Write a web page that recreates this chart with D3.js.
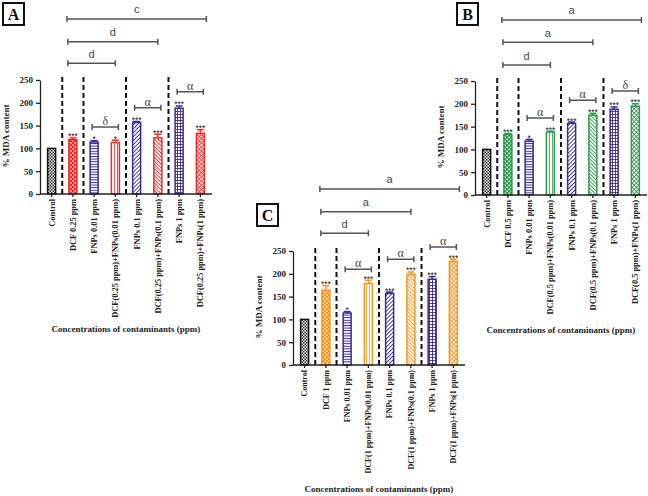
<!DOCTYPE html>
<html><head><meta charset="utf-8">
<script src="https://cdn.jsdelivr.net/npm/d3@7"></script>
<style>body{margin:0;background:#fff;} svg{display:block;}</style>
</head><body>
<svg id="chart" width="648" height="496"></svg>
<script>
// ---------------- DATA ----------------
const categoriesA = ["Control","DCF 0.25 ppm","FNPs 0.01 ppm","DCF(0.25 ppm)+FNPs(0.01 ppm)","FNPs 0.1 ppm","DCF(0.25 ppm)+FNPs(0.1 ppm)","FNPs 1 ppm","DCF(0.25 ppm)+FNPs(1 ppm)"];
const valuesA = [100,119,114,113,157,123,188,133];
const errorsA = [0,4,3,5,2,8,5,8];
const starsA = ["","***","*","*","***","***","***","***"];
const pairsA = [[2,3,147,"δ"],[4,5,189,"α"],[6,7,224,"α"]];
const widesA = [[1,3,287,"d"],[1,5,334,"d"],[1,7,384,"c"]];

const categoriesB = ["Control","DCF 0.5 ppm","FNPs 0.01 ppm","DCF(0.5 ppm)+FNPs(0.01 ppm)","FNPs 0.1 ppm","DCF(0.5 ppm)+FNPs(0.1 ppm)","FNPs 1 ppm","DCF(0.5 ppm)+FNPs(1 ppm)"];
const valuesB = [100,133,118,138,157,175,188,195];
const errorsB = [0,2,4,2,3,4,5,5];
const starsB = ["","***","*","***","***","***","***","***"];
const pairsB = [[2,3,169,"α"],[4,5,208,"α"],[6,7,228,"δ"]];
const widesB = [[1,3,285,"d"],[1,5,335,"a"],[1,7,384,"a"]];

const categoriesC = ["Control","DCF 1 ppm","FNPs 0.01 ppm","DCF(1 ppm)+FNPs(0.01 ppm)","FNPs 0.1 ppm","DCF(1 ppm)+FNPs(0.1 ppm)","FNPs 1 ppm","DCF(1 ppm)+FNPs(1 ppm)"];
const valuesC = [100,164,114,179,157,199,188,227];
const errorsC = [0,10,3,7,3,5,6,5];
const starsC = ["","***","*","***","***","***","***","***"];
const pairsC = [[2,3,210,"α"],[4,5,232,"α"],[6,7,259,"α"]];
const widesC = [[1,3,289,"d"],[1,5,336,"a"],[1,7,386,"a"]];

const yTicks = [0,50,100,150,200,250];
const patternTypes = ["checker","dcf","hlines","vlines","diag1","diag2","grid","cross"];
const yTitle = "% MDA content";
const xTitle = "Concentrations of contaminants (ppm)";

// ---------------- STYLE ----------------
const PURPLE = "#3d2a8a";
const SERIF = "'Liberation Serif','Times New Roman',serif";
const SANS = "'Liberation Sans',Arial,sans-serif";

const svg = d3.select("#chart");
const defs = svg.append("defs");

function makePatterns(pid, color) {
  function pat(name, size, rot) {
    const p = defs.append("pattern").attr("id", pid + "-" + name)
      .attr("patternUnits","userSpaceOnUse").attr("width", size).attr("height", size);
    if (rot) p.attr("patternTransform", "rotate(" + rot + ")");
    p.append("rect").attr("width", size).attr("height", size).attr("fill", "#fff");
    return p;
  }
  let p = pat("checker", 3);
  p.append("rect").attr("width",1.5).attr("height",1.5).attr("fill","#222");
  p.append("rect").attr("x",1.5).attr("y",1.5).attr("width",1.5).attr("height",1.5).attr("fill","#222");
  p = pat("dcf", 4);
  p.select("rect").attr("fill", color);
  p.append("rect").attr("x",0.4).attr("y",0.4).attr("width",1.4).attr("height",1.4).attr("fill","#fff");
  p.append("rect").attr("x",2.4).attr("y",2.4).attr("width",1.4).attr("height",1.4).attr("fill","#fff");
  p = pat("hlines", 2.6, 0);
  p.append("rect").attr("width",2.6).attr("height",1).attr("fill",PURPLE);
  p = pat("vlines", 3, 0);
  p.append("rect").attr("width",0.8).attr("height",3).attr("fill",color);
  p = pat("diag1", 2.8, 45);
  p.append("rect").attr("width",0.9).attr("height",2.8).attr("fill",PURPLE);
  p = pat("diag2", 2.6, -45);
  p.append("rect").attr("width",0.9).attr("height",2.6).attr("fill",color);
  p = pat("grid", 3, 0);
  p.append("rect").attr("width",3).attr("height",0.9).attr("fill",PURPLE);
  p.append("rect").attr("width",0.9).attr("height",3).attr("fill",PURPLE);
  p = pat("cross", 3, 45);
  p.append("rect").attr("width",3).attr("height",0.9).attr("fill",color);
  p.append("rect").attr("width",0.9).attr("height",3).attr("fill",color);
}

function drawPanel(cfg) {
  makePatterns(cfg.id, cfg.color);
  const g = svg.append("g");
  const x = d3.scaleBand().domain(cfg.cats).range([cfg.x0 + 1, cfg.x0 + 171]).padding(0);
  const y = d3.scaleLinear().domain([0, 250]).range([cfg.zero, cfg.zero - 114]);
  const bw = 8;
  const cx = i => x(cfg.cats[i]) + x.bandwidth() / 2;
  const strokeCol = i => i === 0 ? "#111" : (i % 2 === 0 ? PURPLE : cfg.color);

  // panel letter box
  g.append("rect").attr("x", cfg.box[0]).attr("y", cfg.box[1]).attr("width", 21).attr("height", 22)
    .attr("fill", "#fff").attr("stroke", "#111").attr("stroke-width", 2);
  g.append("text").attr("x", cfg.box[0] + 10.5).attr("y", cfg.box[1] + 17).attr("text-anchor","middle")
    .attr("font-family", SERIF).attr("font-weight","bold").attr("font-size", 16).attr("fill","#111").text(cfg.letter);

  // dashed separators
  [0, 1, 3, 5].forEach(i => {
    const xm = (cx(i) + cx(i + 1)) / 2;
    g.append("line").attr("x1", xm).attr("x2", xm).attr("y1", cfg.zero - 117).attr("y2", cfg.zero)
      .attr("stroke", "#111").attr("stroke-width", 2).attr("stroke-dasharray", "5,3");
  });

  // bars
  g.selectAll("rect.bar").data(cfg.vals).enter().append("rect").attr("class","bar")
    .attr("x", (d, i) => cx(i) - bw / 2).attr("width", bw)
    .attr("y", d => y(d)).attr("height", d => cfg.zero - y(d))
    .attr("fill", (d, i) => "url(#" + cfg.id + "-" + patternTypes[i] + ")")
    .attr("stroke", (d, i) => strokeCol(i)).attr("stroke-width", 1.5);

  // error bars
  cfg.vals.forEach((v, i) => {
    const e = cfg.errs[i];
    if (e > 0) {
      g.append("line").attr("x1", cx(i)).attr("x2", cx(i)).attr("y1", y(v)).attr("y2", y(v + e))
        .attr("stroke", strokeCol(i)).attr("stroke-width", 1.5);
      g.append("line").attr("x1", cx(i) - 3.5).attr("x2", cx(i) + 3.5).attr("y1", y(v + e)).attr("y2", y(v + e))
        .attr("stroke", strokeCol(i)).attr("stroke-width", 1.5);
    }
    if (cfg.stars[i]) {
      g.append("text").attr("x", cx(i)).attr("y", y(v + e) + 1.5).attr("text-anchor","middle")
        .attr("font-family", SANS).attr("font-size", 8.5).attr("fill","#222").text(cfg.stars[i]);
    }
  });

  // axes
  const yAxis = g.append("g").attr("transform", "translate(" + cfg.x0 + ",0)")
    .call(d3.axisLeft(y).tickValues(yTicks).tickSize(4).tickSizeOuter(0));
  yAxis.selectAll("text").attr("font-family", SERIF).attr("font-weight","bold").attr("font-size", 9).attr("fill","#222");
  yAxis.selectAll("line,path").attr("stroke","#222").attr("stroke-width",1.3);

  const xAxis = g.append("g").attr("transform", "translate(0," + cfg.zero + ")")
    .call(d3.axisBottom(x).tickSize(3).tickSizeOuter(0));
  xAxis.select("path.domain").attr("d", "M" + cfg.x0 + ",0H" + (cfg.x0 + 172));
  xAxis.selectAll("line,path").attr("stroke","#222").attr("stroke-width",1.3);
  xAxis.selectAll("text").attr("font-family", SERIF).attr("font-weight","bold").attr("font-size", cfg.tickFont)
    .attr("fill","#222").attr("transform","rotate(-90)").attr("text-anchor","end")
    .attr("x", -5).attr("y", 0).attr("dy", "0.35em");

  // titles
  g.append("text").attr("transform", "translate(" + (cfg.x0 - 31) + "," + (cfg.zero - 58) + ") rotate(-90)")
    .attr("text-anchor","middle").attr("font-family", SERIF).attr("font-weight","bold").attr("font-size", 9)
    .attr("fill","#222").text(yTitle);
  g.append("text").attr("x", cfg.x0 + 86).attr("y", cfg.titleY).attr("text-anchor","middle")
    .attr("font-family", SERIF).attr("font-weight","bold").attr("font-size", 9).attr("fill","#222").text(xTitle);

  // significance brackets
  const bracket = (xa, xb, yy, label, greek) => {
    g.append("path").attr("d", "M" + xa + "," + (yy - 3) + "V" + (yy + 3) + "M" + xa + "," + yy + "H" + xb + "M" + xb + "," + (yy - 3) + "V" + (yy + 3))
      .attr("stroke", "#555").attr("stroke-width", 1.5).attr("fill","none");
    g.append("text").attr("x", (xa + xb) / 2).attr("y", greek ? yy - 2 : yy - 5.5).attr("text-anchor","middle")
      .attr("font-family", greek ? SERIF : SANS).attr("font-size", greek ? 12 : 11).attr("fill","#444").text(label);
  };
  cfg.pairs.forEach(p => bracket(cx(p[0]) - 2, cx(p[1]) + 3, y(p[2]), p[3], true));
  cfg.wides.forEach((p, k) => bracket(cx(p[0]) - 5 - (k === 2 ? 1 : 0), cx(p[1]) + (k === 2 ? 6 : 0), y(p[2]), p[3], false));
}

drawPanel({id:"pA", letter:"A", box:[3,3], x0:40, zero:194, cats:categoriesA, vals:valuesA, errs:errorsA, stars:starsA,
  pairs:pairsA, wides:widesA, color:"#ec2b25", tickFont:8.4, titleY:332});
drawPanel({id:"pB", letter:"B", box:[457,3], x0:475, zero:195, cats:categoriesB, vals:valuesB, errs:errorsB, stars:starsB,
  pairs:pairsB, wides:widesB, color:"#2c9a4b", tickFont:8.4, titleY:333});
drawPanel({id:"pC", letter:"C", box:[257,204], x0:293, zero:365, cats:categoriesC, vals:valuesC, errs:errorsC, stars:starsC,
  pairs:pairsC, wides:widesC, color:"#f7941d", tickFont:8, titleY:492});
</script>
</body></html>
